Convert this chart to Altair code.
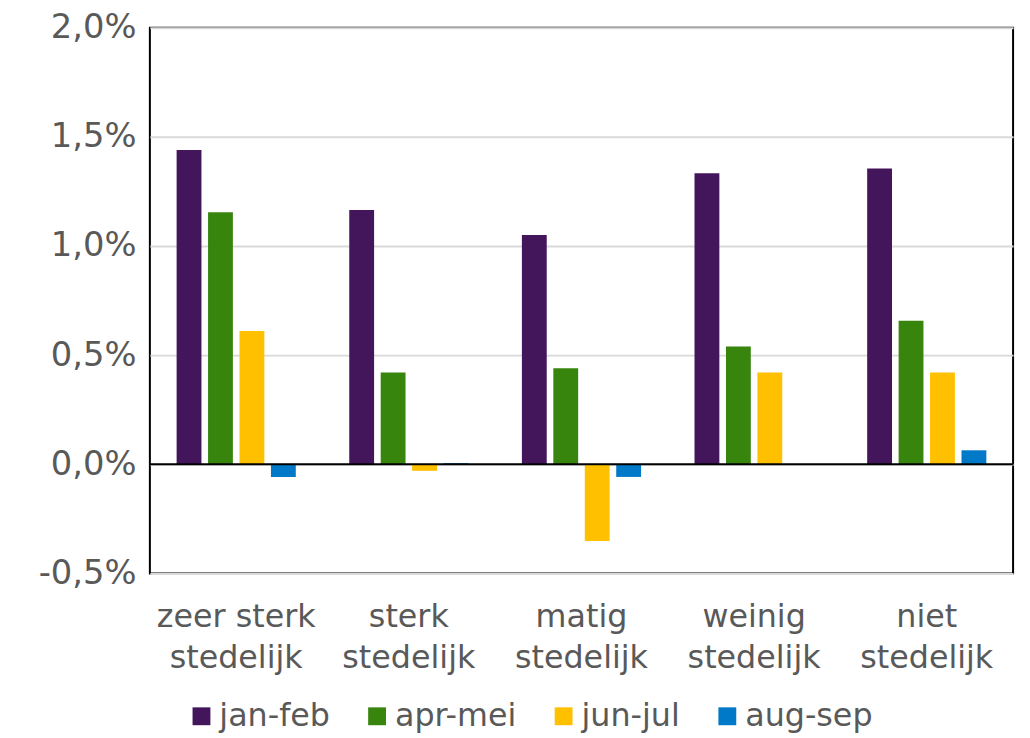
import altair as alt
import pandas as pd

categories = ["zeer sterk stedelijk", "sterk stedelijk", "matig stedelijk", "weinig stedelijk", "niet stedelijk"]
periods = ["jan-feb", "apr-mei", "jun-jul", "aug-sep"]
jan_feb = [1.44, 1.165, 1.05, 1.333, 1.355]
apr_mei = [1.155, 0.42, 0.44, 0.54, 0.657]
jun_jul = [0.61, -0.03, -0.352, 0.42, 0.42]
aug_sep = [-0.058, 0.005, -0.058, 0.0, 0.064]
colors = ["#43165C", "#38850E", "#FFC000", "#0079C8"]

rows = []
for series, name in zip([jan_feb, apr_mei, jun_jul, aug_sep], periods):
    for cat, v in zip(categories, series):
        rows.append({"cat": cat, "period": name, "value": v})
df = pd.DataFrame(rows)

FONT = "DejaVu Sans"
GREY = "#595959"

x = alt.X("cat:N", sort=categories, title=None,
          scale=alt.Scale(paddingInner=0, paddingOuter=0),
          axis=alt.Axis(labelAngle=0, ticks=False, domain=False, labelFont=FONT,
                        labelFontSize=32, labelColor=GREY, labelPadding=29,
                        labelLineHeight=41, labelBaseline="top",
                        labelExpr="datum.label == 'zeer sterk stedelijk' ? ['zeer sterk', 'stedelijk'] : split(datum.label, ' ')"))
y = alt.Y("value:Q", title=None,
          scale=alt.Scale(domain=[-0.5, 2.0], nice=False, zero=False),
          axis=alt.Axis(values=[-0.5, 0, 0.5, 1.0, 1.5, 2.0], ticks=False, domain=False,
                        labelFont=FONT, labelFontSize=34, labelColor=GREY, labelPadding=14,
                        gridColor="#D9D9D9", gridWidth=2,
                        labelExpr="replace(replace(format(datum.value, '.1f'), '.', ','), '\u2212', '-') + '%'"))

bars = alt.Chart(df).mark_bar().encode(
    x=x,
    y=y,
    xOffset=alt.XOffset("period:N", sort=periods,
                        scale=alt.Scale(paddingInner=0.21, paddingOuter=0.85)),
    color=alt.Color("period:N", sort=periods,
                    scale=alt.Scale(domain=periods, range=colors),
                    legend=alt.Legend(title=None, orient="none", legendX=36, legendY=678,
                                      direction="horizontal", columns=4, columnPadding=31,
                                      symbolType="square", symbolSize=324, symbolStrokeWidth=0,
                                      labelFont=FONT, labelFontSize=32, labelColor=GREY,
                                      labelOffset=2)),
)

zero = alt.Chart(pd.DataFrame({"z": [0]})).mark_rule(color="black", strokeWidth=2).encode(
    y=alt.Y("z:Q"))

chart = alt.layer(bars, zero).properties(
    width=870, height=550,
    padding={"left": 143, "top": 17, "right": 9, "bottom": 160},
    autosize=alt.AutoSizeParams(type="none"),
).configure_view(stroke="black", strokeWidth=2)

chart.save("out.html", embed_options={"renderer": "svg", "actions": False})
